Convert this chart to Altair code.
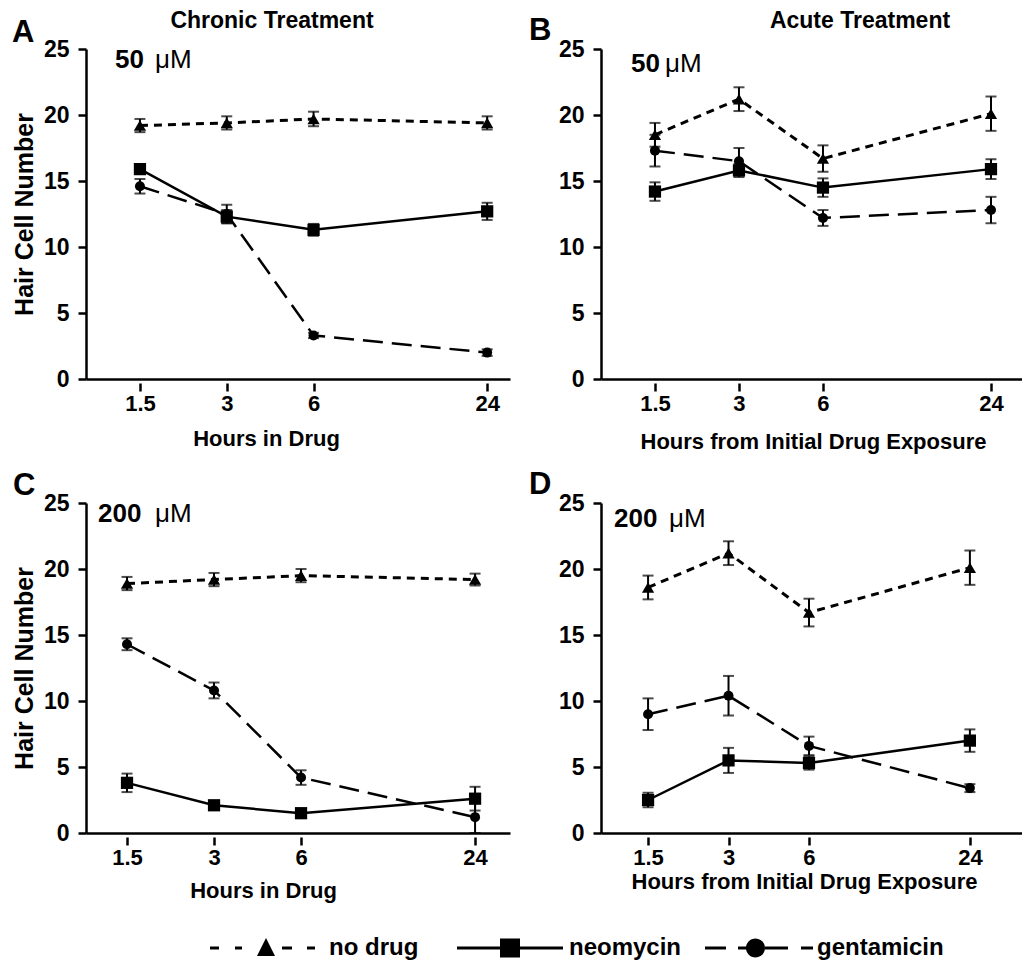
import altair as alt
import pandas as pd

FONT = "Liberation Sans"

hours = [1.5, 3, 6, 24]
series = ["no drug", "neomycin", "gentamicin"]

# Panel A - chronic treatment, 50 uM
a_no_drug = [19.2, 19.4, 19.7, 19.4]
a_no_drug_err = [0.5, 0.5, 0.55, 0.5]
a_neomycin = [15.9, 12.3, 11.3, 12.7]
a_neomycin_err = [0.3, 0.5, 0.45, 0.65]
a_gentamicin = [14.6, 12.5, 3.3, 2.0]
a_gentamicin_err = [0.55, 0.7, 0.2, 0.25]

# Panel B - acute treatment, 50 uM
b_no_drug = [18.5, 21.2, 16.7, 20.1]
b_no_drug_err = [0.9, 0.9, 1.0, 1.3]
b_neomycin = [14.2, 15.8, 14.5, 15.9]
b_neomycin_err = [0.7, 0.5, 0.7, 0.75]
b_gentamicin = [17.3, 16.5, 12.2, 12.8]
b_gentamicin_err = [1.2, 1.0, 0.6, 1.0]

# Panel C - chronic treatment, 200 uM
c_no_drug = [18.9, 19.2, 19.5, 19.2]
c_no_drug_err = [0.5, 0.5, 0.5, 0.45]
c_neomycin = [3.8, 2.1, 1.5, 2.6]
c_neomycin_err = [0.7, 0.2, 0.15, 0.9]
c_gentamicin = [14.3, 10.8, 4.2, 1.2]
c_gentamicin_err = [0.45, 0.6, 0.55, 1.2]

# Panel D - acute treatment, 200 uM
d_no_drug = [18.6, 21.2, 16.7, 20.1]
d_no_drug_err = [0.9, 0.9, 1.05, 1.3]
d_neomycin = [2.5, 5.5, 5.3, 7.0]
d_neomycin_err = [0.55, 0.95, 0.5, 0.85]
d_gentamicin = [9.0, 10.4, 6.6, 3.4]
d_gentamicin_err = [1.2, 1.5, 0.7, 0.3]

y_ticks = [0, 5, 10, 15, 20, 25]


def frame(means, errs):
    rows = []
    for s, m, e in zip(series, means, errs):
        for h, mv, ev in zip(hours, m, e):
            rows.append({"hours": h, "series": s, "mean": mv,
                         "lo": mv - ev, "hi": mv + ev})
    return pd.DataFrame(rows)


styles = {
    "no drug": {"dash": [8, 6], "width": 3, "shape": "triangle-up", "size": 150},
    "neomycin": {"dash": None, "width": 2.5, "shape": "square", "size": 150},
    "gentamicin": {"dash": [20, 9], "width": 2.5, "shape": "circle", "size": 100},
}


def rect(x0, x1, h=1.6):
    return f"M{x0},{-h}L{x1},{-h}L{x1},{h}L{x0},{h}Z"


# legend key glyphs (line style + marker), drawn as filled symbol paths
legend_paths = [
    rect(-106, -97) + rect(-81, -74) + "M-59,8L-50,-10L-41,8Z" + rect(-34, -24) + rect(-9, -1),
    rect(-114, -113.99, 0.005) + rect(-99, 7) + "M-56,-9.5L-36,-9.5L-36,9.5L-56,9.5Z",
    rect(-99, -78) + rect(-66, -56) + "M-58,0A9.5,9.5,0,1,1,-39,0A9.5,9.5,0,1,1,-58,0Z"
    + rect(-39, -16) + rect(-3, 9),
]


def text_layer(txt, x, y, size, weight, align="left"):
    return alt.Chart(pd.DataFrame({"t": [txt]})).mark_text(
        font=FONT, fontSize=size, fontWeight=weight, color="black",
        align=align, baseline="alphabetic"
    ).encode(text="t:N", x=alt.value(x), y=alt.value(y))


def panel(df, width, xdom, letter, letter_xy, title, title_xy, conc, conc_xy,
          unit_x, ytitle, xtitle, xtitle_x, xtitle_y, anchor=False, legend=False):
    height = 330
    xs = alt.Scale(type="log", domain=xdom, nice=False)
    ys = alt.Scale(domain=[0, 25], nice=False, zero=False)
    yax = alt.Axis(values=y_ticks, grid=False, domainColor="black", domainWidth=2.5,
                   tickColor="black", tickWidth=2.5, tickSize=8, labelPadding=9,
                   labelFont=FONT, labelFontSize=23, labelFontWeight="bold",
                   labelColor="black",
                   title=ytitle if ytitle else None,
                   titleFont=FONT, titleFontSize=25, titleFontWeight="bold",
                   titleColor="black", titleX=-62, titleY=height / 2,
                   titleAngle=270, titleAlign="center", titleBaseline="middle")
    x_main = alt.Axis(orient="bottom", values=hours, format="~g", offset=4,
                      domain=False, grid=False, tickColor="black", tickWidth=2.5,
                      tickSize=8, labelPadding=2, labelFont=FONT, labelFontSize=22,
                      labelFontWeight="bold", labelColor="black", labelOverlap=False,
                      labelFlush=False,
                      title=xtitle, titleFont=FONT, titleFontSize=22,
                      titleFontWeight="bold", titleColor="black",
                      titleX=xtitle_x, titleY=xtitle_y, titleAlign="center",
                      titleBaseline="alphabetic")
    x_line = alt.Axis(orient="bottom", domain=True, domainColor="black",
                      domainWidth=2.5, ticks=False, labels=False, grid=False,
                      title=None)

    layers = []
    for i, s in enumerate(series):
        st = styles[s]
        kw = {"color": "black", "strokeWidth": st["width"]}
        if st["dash"]:
            kw["strokeDash"] = st["dash"]
        layers.append(
            alt.Chart(df).transform_filter(alt.datum.series == s).mark_line(**kw).encode(
                x=alt.X("hours:Q", scale=xs, axis=x_line if i == 0 else None),
                y=alt.Y("mean:Q", scale=ys, axis=yax)))
    layers.append(alt.Chart(df).mark_rule(color="black", strokeWidth=2).encode(
        x=alt.X("hours:Q", scale=xs, axis=x_main),
        y=alt.Y("lo:Q", scale=ys, axis=yax), y2="hi:Q"))
    for f in ["lo", "hi"]:
        layers.append(alt.Chart(df).mark_tick(
            orient="horizontal", color="black", size=11, thickness=2).encode(
            x=alt.X("hours:Q", scale=xs, axis=None),
            y=alt.Y(f + ":Q", scale=ys, axis=yax)))
    for s in series:
        st = styles[s]
        layers.append(
            alt.Chart(df).transform_filter(alt.datum.series == s).mark_point(
                shape=st["shape"], size=st["size"], filled=True, color="black",
                opacity=1).encode(
                x=alt.X("hours:Q", scale=xs, axis=None),
                y=alt.Y("mean:Q", scale=ys, axis=yax)))

    layers.append(text_layer(letter, letter_xy[0], letter_xy[1], 31, "bold"))
    if title:
        layers.append(text_layer(title, title_xy[0], title_xy[1], 23, "bold", "center"))
    layers.append(text_layer(conc, conc_xy[0], conc_xy[1], 26, "bold"))
    layers.append(text_layer("\u03bcM", unit_x, conc_xy[1], 26, "normal"))

    if anchor:
        layers.append(alt.Chart(pd.DataFrame({"a": [0]})).mark_rule(
            opacity=0, strokeWidth=1).encode(
            x=alt.value(-86), x2=alt.value(-86), y=alt.value(-49), y2=alt.value(-47)))

    if legend:
        layers.append(alt.Chart(pd.DataFrame({"series": series})).mark_point(
            filled=True, opacity=0, size=0, color="black").encode(
            shape=alt.Shape("series:N",
                            scale=alt.Scale(domain=series, range=legend_paths),
                            legend=alt.Legend(
                                orient="none", legendX=218, legendY=433,
                                direction="horizontal", title=None,
                                symbolSize=4, symbolOpacity=1,
                                symbolFillColor="black", symbolStrokeWidth=0,
                                labelOffset=1, columnPadding=23, padding=0,
                                labelFont=FONT, labelFontSize=24,
                                labelFontWeight="bold", labelColor="black",
                                labelLimit=0))))

    return alt.layer(*layers).resolve_axis(x="independent").properties(
        width=width, height=height)


pA = panel(frame([a_no_drug, a_neomycin, a_gentamicin],
                 [a_no_drug_err, a_neomycin_err, a_gentamicin_err]),
           424, [0.975, 28.8], "A", (-74, -7), "Chronic Treatment", (186, -21),
           "50", (29, 19), 69, "Hair Cell Number", "Hours in Drug", 180, 62,
           anchor=True)
pB = panel(frame([b_no_drug, b_neomycin, b_gentamicin],
                 [b_no_drug_err, b_neomycin_err, b_gentamicin_err]),
           421, [0.961, 31.0], "B", (-72, -9), "Acute Treatment", (259, -21),
           "50", (30, 23), 64, None, "Hours from Initial Drug Exposure", 212, 65)
pC = panel(frame([c_no_drug, c_neomycin, c_gentamicin],
                 [c_no_drug_err, c_neomycin_err, c_gentamicin_err]),
           424, [1.082, 31.7], "C", (-73, -8), None, None,
           "200", (12, 19), 69, "Hair Cell Number", "Hours in Drug", 177, 60,
           legend=True)
pD = panel(frame([d_no_drug, d_neomycin, d_gentamicin],
                 [d_no_drug_err, d_neomycin_err, d_gentamicin_err]),
           421, [1.0, 37.6], "D", (-72, -9), None, None,
           "200", (13, 24), 68, None, "Hours from Initial Drug Exposure", 203, 51)

chart = alt.concat(pA, pB, pC, pD, columns=2,
                   spacing={"row": 124, "column": 91}, bounds="flush").resolve_scale(
    shape="independent").resolve_legend(shape="independent").properties(
    padding=0, background="white").configure_view(stroke=None)

chart.save("out.html", embed_options={"renderer": "svg", "actions": False})
